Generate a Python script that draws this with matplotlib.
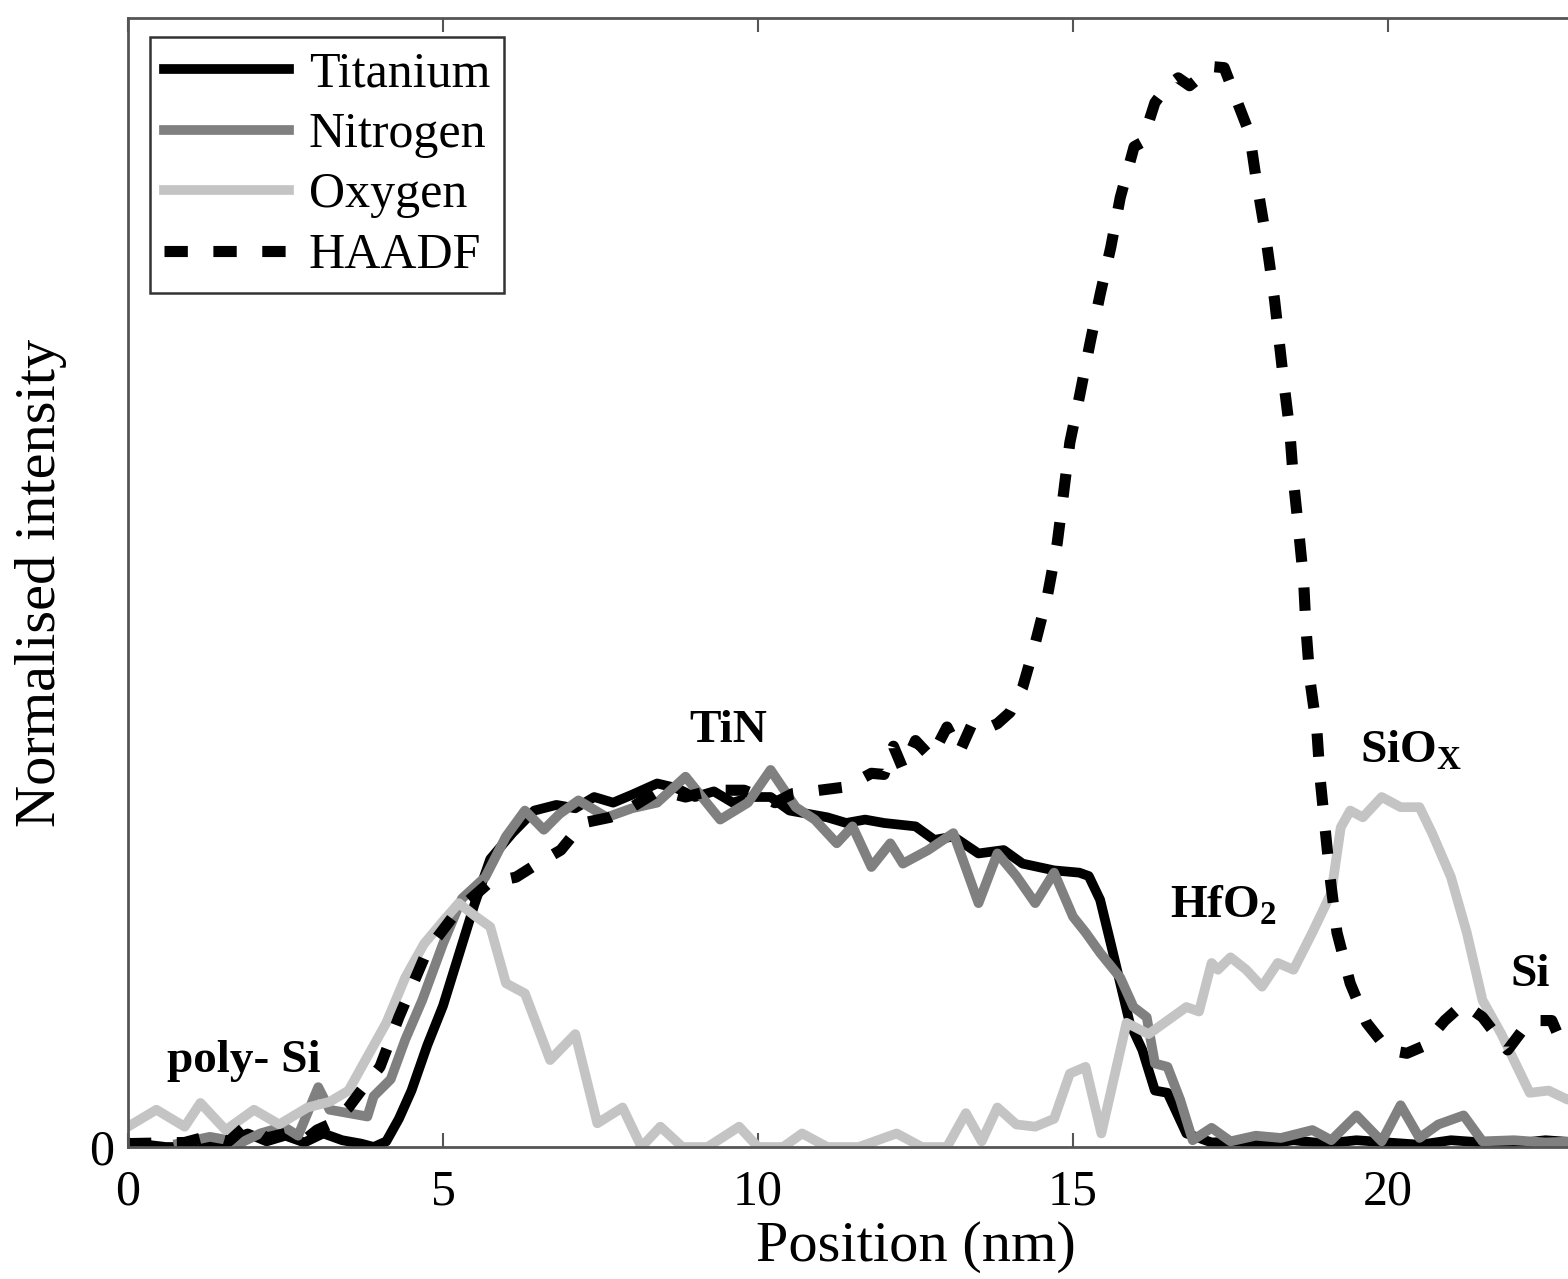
import numpy as np
import matplotlib.pyplot as plt

plt.rcParams['font.family'] = ['Liberation Serif', 'DejaVu Serif']
plt.rcParams['mathtext.fontset'] = 'custom'
plt.rcParams['mathtext.rm'] = 'Liberation Serif'
plt.rcParams['mathtext.bf'] = 'Liberation Serif:bold'

# Titanium profile
ti_x = [0, 0.3, 0.6, 1.0, 1.5, 1.9, 2.2, 2.5, 2.8, 3.1, 3.4, 3.7, 3.9, 4.1, 4.3, 4.5,
        4.75, 5.0, 5.25, 5.5, 5.75, 6.1, 6.45, 6.8, 7.1, 7.4, 7.7, 8.0, 8.4, 8.7, 9.0,
        9.3, 9.6, 9.9, 10.2, 10.5, 10.8, 11.1, 11.4, 11.7, 12.0, 12.5, 12.8, 13.1,
        13.5, 13.9, 14.2, 14.7, 15.1, 15.25, 15.43, 15.6, 15.75, 15.9, 16.1, 16.3, 16.5,
        16.8, 17.2, 17.6, 18.0, 18.5, 19.0, 19.5, 20.0, 20.5, 21.0, 21.5, 22.0, 22.5, 23.0, 24.0]
ti_y = [0.004, 0.002, 0.0, 0.0, 0.003, 0.012, 0.005, 0.01, 0.004, 0.012, 0.006, 0.003,
        0.0, 0.005, 0.025, 0.05, 0.09, 0.125, 0.17, 0.215, 0.255, 0.278, 0.298, 0.303,
        0.3, 0.31, 0.305, 0.312, 0.322, 0.318, 0.31, 0.315, 0.305, 0.31, 0.31, 0.298,
        0.295, 0.292, 0.287, 0.29, 0.287, 0.284, 0.272, 0.275, 0.26, 0.263, 0.251, 0.245,
        0.243, 0.24, 0.219, 0.18, 0.145, 0.11, 0.086, 0.05, 0.048, 0.012, 0.004, 0.005,
        0.002, 0.006, 0.003, 0.006, 0.004, 0.002, 0.006, 0.004, 0.003, 0.006, 0.004, 0.004]

# Nitrogen profile
n_x = [0.8, 1.3, 1.8, 2.1, 2.47, 2.7, 3.02, 3.2, 3.5, 3.8, 3.9, 4.17, 4.4, 4.67, 5.0,
       5.3, 5.67, 6.0, 6.3, 6.6, 6.85, 7.15, 7.6, 8.0, 8.4, 8.85, 9.4, 9.84, 10.2, 10.6,
       10.9, 11.25, 11.5, 11.8, 12.1, 12.3, 12.7, 13.1, 13.5, 13.8, 14.1, 14.4, 14.7,
       15.0, 15.2, 15.43, 15.75, 15.96, 16.17, 16.3, 16.5, 16.7, 16.9, 17.2, 17.5, 17.9,
       18.3, 18.8, 19.1, 19.5, 19.9, 20.2, 20.5, 20.8, 21.2, 21.5, 22.0, 22.5, 23.0, 24.0]
n_y = [0.003, 0.009, 0.004, 0.012, 0.018, 0.01, 0.053, 0.033, 0.03, 0.027, 0.045, 0.06,
       0.095, 0.13, 0.18, 0.22, 0.239, 0.275, 0.298, 0.281, 0.295, 0.307, 0.292, 0.3,
       0.305, 0.328, 0.29, 0.305, 0.334, 0.301, 0.29, 0.269, 0.284, 0.248, 0.269, 0.251,
       0.263, 0.278, 0.216, 0.26, 0.24, 0.216, 0.243, 0.204, 0.19, 0.172, 0.15, 0.124,
       0.115, 0.074, 0.071, 0.042, 0.006, 0.017, 0.005, 0.01, 0.008, 0.015, 0.006, 0.028,
       0.005, 0.037, 0.008, 0.02, 0.028, 0.005, 0.006, 0.004, 0.005, 0.005]

# Oxygen profile
o_x = [0, 0.45, 0.9, 1.15, 1.55, 2.0, 2.4, 2.85, 3.2, 3.5, 3.8, 4.1, 4.4, 4.7, 5.0,
       5.25, 5.5, 5.75, 6.0, 6.3, 6.7, 7.1, 7.45, 7.85, 8.15, 8.45, 8.8, 9.2, 9.7, 10.0,
       10.4, 10.7, 11.1, 11.6, 12.2, 12.6, 13.0, 13.3, 13.55, 13.8, 14.1, 14.4, 14.7,
       14.95, 15.2, 15.45, 15.85, 16.2, 16.5, 16.8, 17.0, 17.2, 17.3, 17.5, 17.75, 18.0,
       18.25, 18.5, 18.8, 19.1, 19.25, 19.4, 19.6, 19.9, 20.2, 20.5, 20.7, 21.0, 21.25,
       21.5, 21.8, 22.05, 22.25, 22.55, 22.85, 23.2, 24.0]
o_y = [0.018, 0.033, 0.018, 0.039, 0.015, 0.033, 0.02, 0.035, 0.04, 0.05, 0.08, 0.11,
       0.15, 0.18, 0.2, 0.216, 0.205, 0.195, 0.145, 0.136, 0.077, 0.1, 0.021, 0.035, 0.0,
       0.018, 0.0, 0.0, 0.018, 0.0, 0.0, 0.012, 0.0, 0.0, 0.012, 0.0, 0.0, 0.03, 0.005,
       0.035, 0.02, 0.018, 0.025, 0.065, 0.071, 0.012, 0.11, 0.1, 0.112, 0.124, 0.12,
       0.163, 0.157, 0.168, 0.157, 0.142, 0.163, 0.157, 0.19, 0.225, 0.283, 0.298, 0.292,
       0.31, 0.301, 0.301, 0.278, 0.239, 0.19, 0.13, 0.1, 0.071, 0.048, 0.05, 0.042,
       0.045, 0.045]

# HAADF profile
h_x = [0, 0.9, 1.3, 1.6, 1.9, 2.2, 2.5, 2.8, 3.0, 3.2, 3.5, 3.7, 4.0, 4.3, 4.75, 5.24,
       5.73, 6.16, 6.5, 6.87, 7.22, 7.65, 8.0, 8.43, 8.85, 9.27, 9.78, 10.27, 10.55,
       10.98, 11.4, 11.8, 12.0, 12.15, 12.3, 12.5, 12.75, 13.0, 13.2, 13.4, 13.6, 13.8,
       14.0, 14.2, 14.4, 14.6, 14.75, 14.85, 14.95, 15.1, 15.27, 15.43, 15.6, 15.75,
       15.97, 16.1, 16.3, 16.5, 16.67, 16.85, 17.07, 17.2, 17.4, 17.64, 17.8, 17.9, 18.05,
       18.2, 18.34, 18.44, 18.5, 18.58, 18.66, 18.7, 18.76, 18.87, 18.92, 19.0, 19.08,
       19.19, 19.4, 19.66, 20.0, 20.3, 20.55, 20.9, 21.2, 21.5, 21.9, 22.25, 22.6, 22.8,
       23.2, 24.0]
h_y = [0.003, 0.004, 0.01, 0.005, 0.02, 0.008, 0.012, 0.006, 0.015, 0.02, 0.035, 0.05,
       0.071, 0.115, 0.174, 0.21, 0.234, 0.239, 0.251, 0.263, 0.287, 0.292, 0.301, 0.316,
       0.31, 0.316, 0.316, 0.305, 0.313, 0.316, 0.319, 0.331, 0.33, 0.355, 0.335, 0.36,
       0.345, 0.372, 0.35, 0.375, 0.37, 0.375, 0.385, 0.407, 0.446, 0.49, 0.535, 0.579,
       0.624, 0.664, 0.712, 0.755, 0.797, 0.841, 0.886, 0.89, 0.925, 0.94, 0.947, 0.94,
       0.95, 0.957, 0.956, 0.921, 0.898, 0.86, 0.81, 0.75, 0.68, 0.635, 0.59, 0.547,
       0.502, 0.458, 0.414, 0.37, 0.328, 0.283, 0.239, 0.19, 0.145, 0.11, 0.086, 0.083,
       0.089, 0.112, 0.127, 0.115, 0.086, 0.112, 0.112, 0.086, 0.1, 0.1]

fig = plt.figure(figsize=(15.68, 12.79), dpi=100)
ax = fig.add_axes([128 / 1568, 132 / 1279, 25 * 63 / 1568, 1129 / 1279])

ax.plot(ti_x, ti_y, color='black', lw=7, label='Titanium')
ax.plot(n_x, n_y, color='#808080', lw=7, label='Nitrogen')
ax.plot(o_x, o_y, color='#c4c4c4', lw=7, label='Oxygen')
ax.plot(h_x, h_y, color='black', lw=8, linestyle=(0, (2.1, 2.3)), label='HAADF')

ax.set_xlim(0, 25)
ax.set_ylim(0, 1)
ax.set_xticks([0, 5, 10, 15, 20])
ax.set_yticks([0])
ax.tick_params(direction='in', top=True, length=10, width=1.5, labelsize=36,
               color='#555555')
ax.tick_params(axis='x', pad=16)
ax.tick_params(axis='y', pad=10)
for sp in ax.spines.values():
    sp.set_color('#555555')
    sp.set_linewidth(2)

ax.set_xlabel('Position (nm)', fontsize=42, labelpad=4)
ax.set_ylabel('Normalised intensity', fontsize=42, labelpad=16)

# layer labels
lbl = dict(fontsize=34, fontweight='bold')
ax.text(9.52, 0.359, 'TiN', ha='center', va='baseline', **lbl)
ax.text(0.62, 0.066, 'poly- Si', ha='left', va='baseline', **lbl)
ax.text(16.54, 0.203, r'HfO$_\mathbf{2}$', ha='left', va='baseline', **lbl)
ax.text(19.56, 0.341, r'SiO$_\mathbf{X}$', ha='left', va='baseline', **lbl)
ax.text(21.94, 0.143, 'Si', ha='left', va='baseline', **lbl)

leg = ax.legend(loc='upper left', bbox_to_anchor=(22 / 1575, 1110 / 1129),
                borderaxespad=0, fontsize=36, handlelength=2.5, handletextpad=0.4,
                labelspacing=0.28, borderpad=0.28, fancybox=False, framealpha=1)
leg.get_frame().set_edgecolor('#333333')
leg.get_frame().set_linewidth(1.8)

plt.savefig('out.png', dpi=100)
